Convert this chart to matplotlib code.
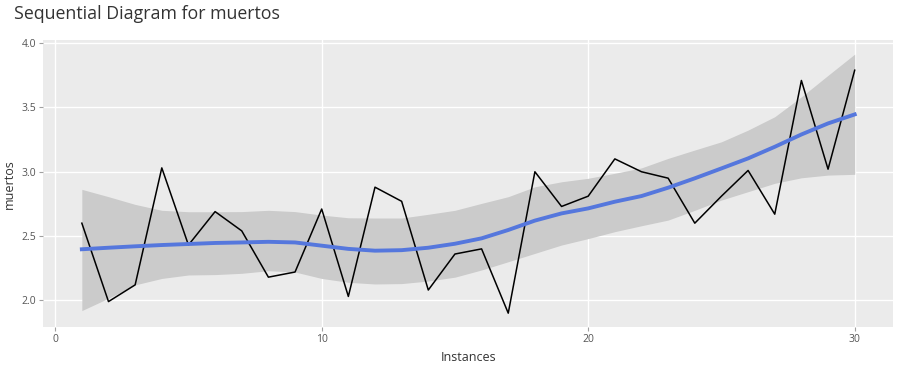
import numpy as np
import matplotlib.pyplot as plt

# data
instances = np.arange(1, 31)
muertos = [2.60, 1.99, 2.12, 3.03, 2.43, 2.69, 2.54, 2.18, 2.22, 2.71,
           2.03, 2.88, 2.77, 2.08, 2.36, 2.40, 1.90, 3.00, 2.73, 2.81,
           3.10, 3.00, 2.95, 2.60, 2.81, 3.01, 2.67, 3.71, 3.02, 3.79]

# loess smooth + confidence band
smooth = [2.397, 2.409, 2.420, 2.430, 2.438, 2.446, 2.450, 2.455, 2.450, 2.425,
          2.400, 2.386, 2.390, 2.409, 2.440, 2.482, 2.547, 2.620, 2.676, 2.715,
          2.767, 2.811, 2.876, 2.949, 3.026, 3.104, 3.194, 3.290, 3.376, 3.446]
upper = [2.863, 2.806, 2.746, 2.700, 2.689, 2.689, 2.690, 2.700, 2.690, 2.663,
         2.642, 2.640, 2.640, 2.669, 2.700, 2.754, 2.806, 2.883, 2.922, 2.949,
         2.988, 3.030, 3.104, 3.169, 3.233, 3.324, 3.428, 3.583, 3.750, 3.915]
lower = [1.920, 2.016, 2.120, 2.170, 2.197, 2.200, 2.210, 2.230, 2.220, 2.170,
         2.140, 2.127, 2.130, 2.150, 2.180, 2.236, 2.300, 2.365, 2.430, 2.480,
         2.534, 2.580, 2.624, 2.700, 2.780, 2.845, 2.910, 2.953, 2.974, 2.980]

plt.rcParams['font.family'] = ['Open Sans', 'DejaVu Sans']

fig = plt.figure(figsize=(9, 3.68), dpi=100)
ax = fig.add_axes([0.048, 0.1106, 0.9446, 0.7804])
ax.set_facecolor('#EBEBEB')

ax.fill_between(instances, lower, upper, color='#cbcbcb', lw=0, zorder=2)
ax.plot(instances, muertos, color='black', lw=1.1, zorder=3)
ax.plot(instances, smooth, color='#5577dd', lw=2.8, zorder=4)

ax.set_xlim(-0.45, 31.45)
ax.set_ylim(1.79, 4.024)
ax.set_xticks([0, 10, 20, 30])
ax.set_yticks([2.0, 2.5, 3.0, 3.5, 4.0])
ax.set_yticklabels(['2.0', '2.5', '3.0', '3.5', '4.0'])
ax.grid(True, color='white', lw=1.0, zorder=1)
ax.set_axisbelow(True)
for s in ax.spines.values():
    s.set_visible(False)
ax.tick_params(axis='both', colors='#a0a0a0', labelcolor='#555555',
               labelsize=7.5, length=3, width=0.8, pad=2)

ax.set_xlabel('Instances', fontsize=9, color='#333333', labelpad=4)
ax.set_ylabel('muertos', fontsize=9, color='#333333', labelpad=4)
fig.text(0.0156, 0.962, 'Sequential Diagram for muertos', fontsize=12.8,
         color='#333333', va='center', ha='left')

plt.savefig('out.png', dpi=100)
